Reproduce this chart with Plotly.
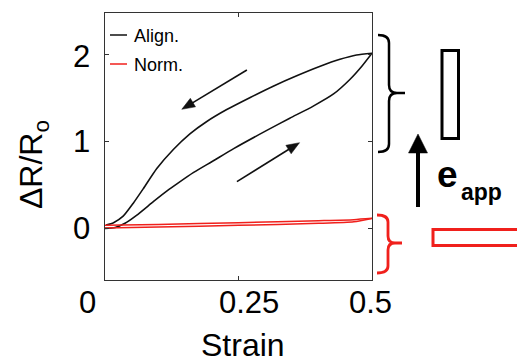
import math
import plotly.graph_objects as go

# Resistance change vs strain for aligned and normal orientation (load / unload loops)
align_load_strain = [0.0, 0.019, 0.0375, 0.059, 0.091, 0.118, 0.134, 0.166, 0.203, 0.241,
                     0.303, 0.346, 0.39, 0.428, 0.459, 0.481, 0.5]
align_load_dr = [0.0, 0.01, 0.058, 0.15, 0.31, 0.44, 0.51, 0.645, 0.78, 0.92,
                 1.13, 1.27, 1.41, 1.55, 1.72, 1.87, 2.02]

align_unload_strain = [0.5, 0.471, 0.44, 0.403, 0.359, 0.315, 0.272, 0.228, 0.19, 0.159,
                       0.128, 0.097, 0.072, 0.053, 0.034, 0.016, 0.002]
align_unload_dr = [2.02, 2.0, 1.95, 1.87, 1.76, 1.64, 1.51, 1.37, 1.23, 1.09,
                   0.91, 0.69, 0.46, 0.29, 0.14, 0.065, 0.038]

norm_load_strain = [0.0, 0.1, 0.25, 0.4, 0.466, 0.5]
norm_load_dr = [0.005, 0.015, 0.035, 0.058, 0.076, 0.115]

norm_unload_strain = [0.5, 0.466, 0.4, 0.25, 0.1, 0.0]
norm_unload_dr = [0.115, 0.1, 0.088, 0.065, 0.045, 0.035]

x_ticks = [0, 0.25, 0.5]
x_tick_text = ["0", "0.25", "0.5"]
y_ticks = [0, 1, 2]
y_tick_text = ["0", "1", "2"]

legend_labels = ["Align.", "Norm."]

BLACK = "#111111"
RED = "#f0201c"
FONT = "Liberation Sans, Arial, Helvetica, sans-serif"

W, H = 517, 364
L, R, T, B = 105, 372, 13, 280  # plot area in pixels
X_RANGE = [0, 0.5]
Y_RANGE = [-0.596, 2.484]


def px_x(p):
    return (p - L) / (R - L)


def px_y(p):
    return (B - p) / (B - T)


def data_to_px(x, y):
    return (L + (x - X_RANGE[0]) / (X_RANGE[1] - X_RANGE[0]) * (R - L),
            B - (y - Y_RANGE[0]) / (Y_RANGE[1] - Y_RANGE[0]) * (B - T))


def arrow_shapes(tail, head, width, head_len, head_w, color):
    """Straight arrow with a filled triangular head, given in pixel coordinates."""
    (tx, ty), (hx, hy) = tail, head
    d = math.hypot(hx - tx, hy - ty)
    ux, uy = (hx - tx) / d, (hy - ty) / d
    nx, ny = -uy, ux
    bx, by = hx - ux * head_len, hy - uy * head_len
    ex, ey = bx + ux * 1.0, by + uy * 1.0
    line = dict(type="line", xref="paper", yref="paper",
                x0=px_x(tx), y0=px_y(ty), x1=px_x(ex), y1=px_y(ey),
                line=dict(color=color, width=width))
    tri = dict(type="path", xref="paper", yref="paper",
               path=(f"M{px_x(hx)},{px_y(hy)} "
                     f"L{px_x(bx + nx * head_w / 2)},{px_y(by + ny * head_w / 2)} "
                     f"L{px_x(bx - nx * head_w / 2)},{px_y(by - ny * head_w / 2)} Z"),
               fillcolor=color, line=dict(color=color, width=0.5))
    return [line, tri]


fig = go.Figure()

curves = [
    (legend_labels[0], align_load_strain, align_load_dr, BLACK, 1.6),
    (legend_labels[0], align_unload_strain, align_unload_dr, BLACK, 1.6),
    (legend_labels[1], norm_load_strain, norm_load_dr, RED, 1.5),
    (legend_labels[1], norm_unload_strain, norm_unload_dr, RED, 1.5),
]
for name, xs, ys, color, w in curves:
    fig.add_trace(go.Scatter(
        x=xs, y=ys, mode="lines", name=name, legendgroup=name,
        line=dict(color=color, width=w, shape="spline", smoothing=0.6),
        showlegend=False,
    ))

annotations = []
shapes = []

# tick labels
x_label_shift = [-18, 10, -2]
for v, t, s in zip(x_ticks, x_tick_text, x_label_shift):
    annotations.append(dict(x=v, y=0, xref="x", yref="paper", text=t, showarrow=False,
                            xanchor="center", yanchor="middle", xshift=s, yshift=-22,
                            font=dict(family=FONT, size=31, color="black")))
y_label_shift = [0, 0, -2]
for v, t, s in zip(y_ticks, y_tick_text, y_label_shift):
    annotations.append(dict(x=0, y=v, xref="paper", yref="y", text=t, showarrow=False,
                            xanchor="right", yanchor="middle", xshift=-13, yshift=s,
                            font=dict(family=FONT, size=31, color="black")))

# axis titles
annotations.append(dict(x=px_x(243), y=px_y(345), xref="paper", yref="paper", text="Strain",
                        showarrow=False, xanchor="center", yanchor="middle",
                        font=dict(family=FONT, size=32, color="black")))
annotations.append(dict(x=px_x(33), y=px_y(165), xref="paper", yref="paper",
                        text="ΔR/R<sub>o</sub>", textangle=-90,
                        showarrow=False, xanchor="center", yanchor="middle",
                        font=dict(family=FONT, size=32, color="black")))

# legend
for label, color, ypix in zip(legend_labels, [BLACK, RED], [35, 64]):
    shapes.append(dict(type="line", xref="paper", yref="paper",
                       x0=px_x(110), x1=px_x(127), y0=px_y(ypix), y1=px_y(ypix),
                       line=dict(color=color, width=1.5)))
    annotations.append(dict(x=px_x(132), y=px_y(ypix + 1), xref="paper", yref="paper",
                            text=label, showarrow=False, xanchor="left", yanchor="middle",
                            font=dict(family=FONT, size=18, color="black")))

# loading / unloading direction arrows (strain, dR/R0)
direction_arrows = [
    ((0.2657, 1.827), (0.1438, 1.373)),
    ((0.247, 0.538), (0.3643, 0.988)),
]
for tail, head in direction_arrows:
    shapes += arrow_shapes(data_to_px(*tail), data_to_px(*head), 1.6, 13, 10, BLACK)

# applied field arrow and label
shapes += arrow_shapes((418, 207), (418, 134), 4, 19, 19, "black")
annotations.append(dict(x=px_x(447), y=px_y(175), xref="paper", yref="paper", text="<b>e</b>",
                        showarrow=False, xanchor="center", yanchor="middle",
                        font=dict(family=FONT, size=37, color="black")))
annotations.append(dict(x=px_x(481), y=px_y(192), xref="paper", yref="paper", text="<b>app</b>",
                        showarrow=False, xanchor="center", yanchor="middle",
                        font=dict(family=FONT, size=23, color="black")))


def brace_path(x0, xs, xtip, ytop, ymid, ybot, r=8):
    pts = [
        f"M{px_x(x0)},{px_y(ytop)}",
        f"Q{px_x(xs)},{px_y(ytop)} {px_x(xs)},{px_y(ytop + r)}",
        f"L{px_x(xs)},{px_y(ymid - r)}",
        f"Q{px_x(xs)},{px_y(ymid)} {px_x(xs + r)},{px_y(ymid)}",
        f"L{px_x(xtip)},{px_y(ymid)}",
        f"L{px_x(xs + r)},{px_y(ymid)}",
        f"Q{px_x(xs)},{px_y(ymid)} {px_x(xs)},{px_y(ymid + r)}",
        f"L{px_x(xs)},{px_y(ybot - r)}",
        f"Q{px_x(xs)},{px_y(ybot)} {px_x(x0)},{px_y(ybot)}",
    ]
    return " ".join(pts)


shapes.append(dict(type="path", xref="paper", yref="paper",
                   path=brace_path(378, 389, 405, 35, 93, 152),
                   line=dict(color="black", width=2.5)))
shapes.append(dict(type="path", xref="paper", yref="paper",
                   path=brace_path(377, 388, 402, 215, 243, 273, r=7),
                   line=dict(color=RED, width=2.8)))

# sample orientation sketches
shapes.append(dict(type="rect", xref="paper", yref="paper",
                   x0=px_x(442), x1=px_x(458.5), y0=px_y(138.5), y1=px_y(50.5),
                   line=dict(color="black", width=3)))
shapes.append(dict(type="rect", xref="paper", yref="paper",
                   x0=px_x(433), x1=px_x(540), y0=px_y(245.5), y1=px_y(229.5),
                   line=dict(color=RED, width=3)))

axis_common = dict(showline=True, linecolor="#333333", linewidth=1, mirror="ticks",
                   ticks="inside", ticklen=4, tickcolor="#333333", tickwidth=1,
                   showgrid=False, zeroline=False, showticklabels=False, automargin=False)

fig.update_layout(
    width=W, height=H,
    margin=dict(l=L, r=W - R, t=T, b=H - B, pad=0),
    paper_bgcolor="white", plot_bgcolor="white",
    xaxis=dict(range=X_RANGE, tickvals=x_ticks, **axis_common),
    yaxis=dict(range=Y_RANGE, tickvals=y_ticks, **axis_common),
    annotations=annotations,
    shapes=shapes,
    showlegend=False,
)

fig.write_html("out.html", config=dict(displayModeBar=False))
